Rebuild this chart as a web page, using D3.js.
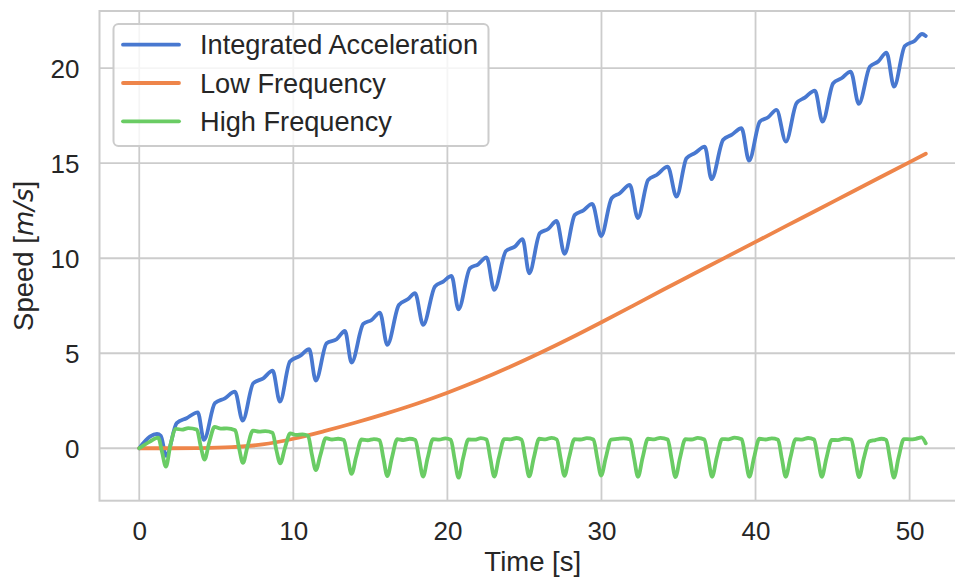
<!DOCTYPE html>
<html>
<head>
<meta charset="utf-8">
<script src="https://cdn.jsdelivr.net/npm/d3@7"></script>
<style>
  html, body { margin: 0; padding: 0; background: #fff; overflow: hidden; }
  svg { display: block; }
  text { font-family: "Liberation Sans", Arial, sans-serif; fill: #262626; }
</style>
</head>
<body>
<svg id="chart" width="955" height="577"></svg>
<script>
// ---------------- DATA ----------------
const seriesNames = ["Integrated Acceleration", "Low Frequency", "High Frequency"];
const seriesColors = ["#4878d0", "#ee854a", "#6acc64"];

const xTicks = [0, 10, 20, 30, 40, 50];
const yTicks = [0, 5, 10, 15, 20];

// Integrated Acceleration
const timeIA = [0, 0.69, 1.15, 1.4, 1.75, 2.43, 3.07, 3.8, 4.2, 4.91, 5.56, 6.21, 6.71, 7.4, 8.05, 8.66,
  9.13, 9.78, 10.43, 11.03, 11.46, 12.16, 12.81, 13.35, 13.78, 14.54, 15.08, 15.62, 16.1, 16.85, 17.45, 17.9,
  18.43, 19.19, 19.73, 20.27, 20.72, 21.46, 22.0, 22.54, 23.04, 23.8, 24.38, 24.88, 25.31, 26.0, 26.54, 27.09,
  27.6, 28.27, 28.81, 29.4, 29.98, 30.66, 31.19, 31.84, 32.36, 33.03, 33.58, 34.3, 34.87, 35.52, 36.06, 36.71,
  37.14, 37.9, 38.44, 39.09, 39.58, 40.28, 40.82, 41.36, 41.97, 42.66, 43.2, 43.85, 44.35, 45.04, 45.58, 46.18,
  46.7, 47.42, 47.96, 48.5, 48.99, 49.69, 50.34, 50.81, 51.05];
const integratedAcc = [0, 0.61, 0.75, 0.65, -0.4, 1.32, 1.58, 1.89, 0.44, 2.37, 2.63, 2.98, 1.45, 3.42, 3.68, 4.08,
  2.45, 4.56, 4.86, 5.21, 3.56, 5.53, 5.74, 6.17, 4.51, 6.54, 6.75, 7.14, 5.44, 7.54, 7.85, 8.16,
  6.49, 8.51, 8.77, 9.07, 7.31, 9.47, 9.68, 10.05, 8.33, 10.38, 10.61, 11.0, 9.21, 11.32, 11.54, 11.96,
  10.23, 12.28, 12.51, 12.86, 11.17, 13.16, 13.42, 13.86, 12.11, 14.12, 14.38, 14.82, 13.24, 15.26, 15.53, 15.87,
  14.16, 16.23, 16.49, 16.84, 15.14, 17.19, 17.42, 17.81, 16.14, 18.16, 18.45, 18.82, 17.19, 19.21, 19.47, 19.82,
  18.12, 20.08, 20.35, 20.82, 19.03, 21.17, 21.45, 21.8, 21.7];

// Low Frequency
const timeLF = [0, 2, 4, 6, 8, 10, 12, 14, 16, 18, 20, 22, 24, 26, 28, 30, 32, 34, 36, 38, 40, 42, 44, 46, 48, 50, 51.05];
const lowFreq = [0, 0, 0.01, 0.06, 0.2, 0.5, 0.9, 1.34, 1.82, 2.34, 2.92, 3.56, 4.26, 5.01, 5.8, 6.63, 7.48, 8.34,
  9.18, 10.02, 10.86, 11.7, 12.54, 13.38, 14.22, 15.06, 15.5];

// High Frequency
const timeHF = [0, 0.69, 1.23, 1.48, 1.73,
  2.03, 2.38, 2.78, 3.18, 3.74, 3.99, 4.24,
  4.54, 4.89, 5.29, 5.69, 6.23, 6.48, 6.73,
  7.03, 7.38, 7.78, 8.18, 8.65, 8.9, 9.15,
  9.45, 9.8, 10.2, 10.6, 10.96, 11.21, 11.46,
  11.76, 12.11, 12.51, 12.91, 13.28, 13.53, 13.78,
  14.08, 14.43, 14.83, 15.23, 15.6, 15.85, 16.1,
  16.4, 16.75, 17.15, 17.55, 17.92, 18.17, 18.42,
  18.72, 19.07, 19.47, 19.87, 20.22, 20.47, 20.72,
  21.02, 21.37, 21.77, 22.17, 22.54, 22.79, 23.04,
  23.34, 23.69, 24.09, 24.49, 24.81, 25.06, 25.31,
  25.61, 25.96, 26.36, 26.76, 27.1, 27.35, 27.6,
  27.9, 28.25, 28.65, 29.05, 29.48, 29.73, 29.98,
  30.28, 30.63, 31.03, 31.43, 31.87, 32.12, 32.37,
  32.67, 33.02, 33.42, 33.82, 34.3, 34.55, 34.8,
  35.1, 35.45, 35.85, 36.25, 36.68, 36.93, 37.18,
  37.48, 37.83, 38.23, 38.63, 39.1, 39.35, 39.6,
  39.9, 40.25, 40.65, 41.05, 41.46, 41.71, 41.96,
  42.26, 42.61, 43.01, 43.41, 43.8, 44.05, 44.3,
  44.6, 44.95, 45.35, 45.75, 46.22, 46.47, 46.72,
  47.02, 47.37, 47.77, 48.17, 48.48, 48.73, 48.98,
  49.28, 49.63, 50.03, 50.4, 50.77, 51.05];
const highFreq = [0, 0.35, 0.56, -0.2, -0.97,
  0.2, 1.02, 0.98, 1.06, 0.98, 0.1, -0.6,
  0.3, 1.12, 1.03, 1.05, 0.95, 0.0, -0.77,
  0.1, 0.93, 0.88, 0.9, 0.82, -0.1, -0.8,
  0.0, 0.78, 0.7, 0.73, 0.65, -0.35, -1.15,
  -0.35, 0.53, 0.46, 0.5, 0.43, -0.5, -1.35,
  -0.45, 0.46, 0.42, 0.48, 0.42, -0.55, -1.47,
  -0.5, 0.48, 0.43, 0.5, 0.44, -0.55, -1.49,
  -0.5, 0.48, 0.45, 0.52, 0.45, -0.57, -1.55,
  -0.52, 0.46, 0.45, 0.53, 0.46, -0.55, -1.49,
  -0.5, 0.48, 0.47, 0.54, 0.46, -0.55, -1.48,
  -0.5, 0.5, 0.47, 0.55, 0.46, -0.53, -1.45,
  -0.48, 0.48, 0.46, 0.53, 0.46, -0.53, -1.44,
  -0.5, 0.46, 0.49, 0.52, 0.46, -0.55, -1.5,
  -0.5, 0.5, 0.47, 0.55, 0.46, -0.55, -1.52,
  -0.5, 0.48, 0.46, 0.55, 0.46, -0.55, -1.5,
  -0.5, 0.48, 0.47, 0.56, 0.47, -0.55, -1.5,
  -0.5, 0.5, 0.46, 0.52, 0.45, -0.55, -1.5,
  -0.5, 0.48, 0.45, 0.54, 0.46, -0.55, -1.5,
  -0.52, 0.44, 0.43, 0.51, 0.46, -0.55, -1.52,
  -0.55, 0.36, 0.43, 0.5, 0.44, -0.57, -1.55,
  -0.5, 0.48, 0.47, 0.5, 0.57, 0.26];

// ---------------- CHART ----------------
const svg = d3.select("#chart");
const plotLeft = 99.5, plotTop = 11, plotBottom = 500.7, plotRight = 966;

const x = d3.scaleLinear().domain([-2.58, 53.66]).range([plotLeft, plotRight]);
const y = d3.scaleLinear().domain([-2.76, 23.01]).range([plotBottom, plotTop]);

const gridColor = "#cccccc";

// grid
const grid = svg.append("g");
grid.selectAll("line.vx").data(xTicks).join("line")
  .attr("x1", d => x(d)).attr("x2", d => x(d))
  .attr("y1", plotTop).attr("y2", plotBottom)
  .attr("stroke", gridColor).attr("stroke-width", 1.8);
grid.selectAll("line.hy").data(yTicks).join("line")
  .attr("x1", plotLeft).attr("x2", plotRight)
  .attr("y1", d => y(d)).attr("y2", d => y(d))
  .attr("stroke", gridColor).attr("stroke-width", 1.8);

// spines
svg.append("rect")
  .attr("x", plotLeft).attr("y", plotTop)
  .attr("width", plotRight - plotLeft).attr("height", plotBottom - plotTop)
  .attr("fill", "none").attr("stroke", gridColor).attr("stroke-width", 2);

// axes
const xAxis = d3.axisBottom(x).tickValues(xTicks).tickSize(0).tickPadding(0).tickFormat(d3.format("d"));
const gx = svg.append("g").attr("transform", `translate(0,${plotBottom})`).call(xAxis);
gx.select(".domain").remove();
gx.selectAll("text").attr("dy", null).attr("y", 39.5)
  .style("font-size", "26px").style("fill", "#262626")
  .style("font-family", '"Liberation Sans", Arial, sans-serif');

const yAxis = d3.axisLeft(y).tickValues(yTicks).tickSize(0).tickPadding(0).tickFormat(d3.format("d"));
const gy = svg.append("g").attr("transform", `translate(${plotLeft},0)`).call(yAxis);
gy.select(".domain").remove();
gy.selectAll("text").attr("x", -20).attr("dy", "0.35em")
  .style("font-size", "26px").style("fill", "#262626")
  .style("font-family", '"Liberation Sans", Arial, sans-serif');

// axis labels
svg.append("text")
  .attr("x", (plotLeft + plotRight) / 2).attr("y", 571)
  .attr("text-anchor", "middle").style("font-size", "27.5px")
  .text("Time [s]");

const ylab = svg.append("text")
  .attr("transform", `translate(33,${(plotTop + plotBottom) / 2}) rotate(-90)`)
  .attr("text-anchor", "middle").style("font-size", "27.5px");
ylab.append("tspan").text("Speed [");
ylab.append("tspan").style("font-style", "italic").style("font-family", '"DejaVu Sans", sans-serif').style("font-size", "26px").text("m/s");
ylab.append("tspan").text("]");

// lines
svg.append("clipPath").attr("id", "plotclip").append("rect")
  .attr("x", plotLeft).attr("y", plotTop).attr("width", plotRight - plotLeft).attr("height", plotBottom - plotTop);

const series = [
  { name: seriesNames[0], color: seriesColors[0], t: timeIA, v: integratedAcc },
  { name: seriesNames[1], color: seriesColors[1], t: timeLF, v: lowFreq },
  { name: seriesNames[2], color: seriesColors[2], t: timeHF, v: highFreq }
];

const line = d3.line().x(d => x(d[0])).y(d => y(d[1])).curve(d3.curveMonotoneX);
const lines = svg.append("g").attr("clip-path", "url(#plotclip)");
series.forEach(s => {
  lines.append("path")
    .datum(s.t.map((t, i) => [t, s.v[i]]))
    .attr("fill", "none")
    .attr("stroke", s.color)
    .attr("stroke-width", 3.8)
    .attr("stroke-linejoin", "round")
    .attr("stroke-linecap", "round")
    .attr("d", line);
});

// legend
const legend = svg.append("g");
legend.append("rect")
  .attr("x", 113.5).attr("y", 24).attr("width", 375).attr("height", 122)
  .attr("rx", 5).attr("ry", 5)
  .attr("fill", "#ffffff").attr("fill-opacity", 0.8)
  .attr("stroke", "#cccccc").attr("stroke-width", 2);
const legendY = [44.7, 83, 121.3];
series.forEach((s, i) => {
  legend.append("line")
    .attr("x1", 123).attr("x2", 179)
    .attr("y1", legendY[i]).attr("y2", legendY[i])
    .attr("stroke", s.color).attr("stroke-width", 3.8).attr("stroke-linecap", "round");
  legend.append("text")
    .attr("x", 200).attr("y", legendY[i]).attr("dy", "0.35em")
    .style("font-size", "27.2px")
    .text(s.name);
});
</script>
</body>
</html>
